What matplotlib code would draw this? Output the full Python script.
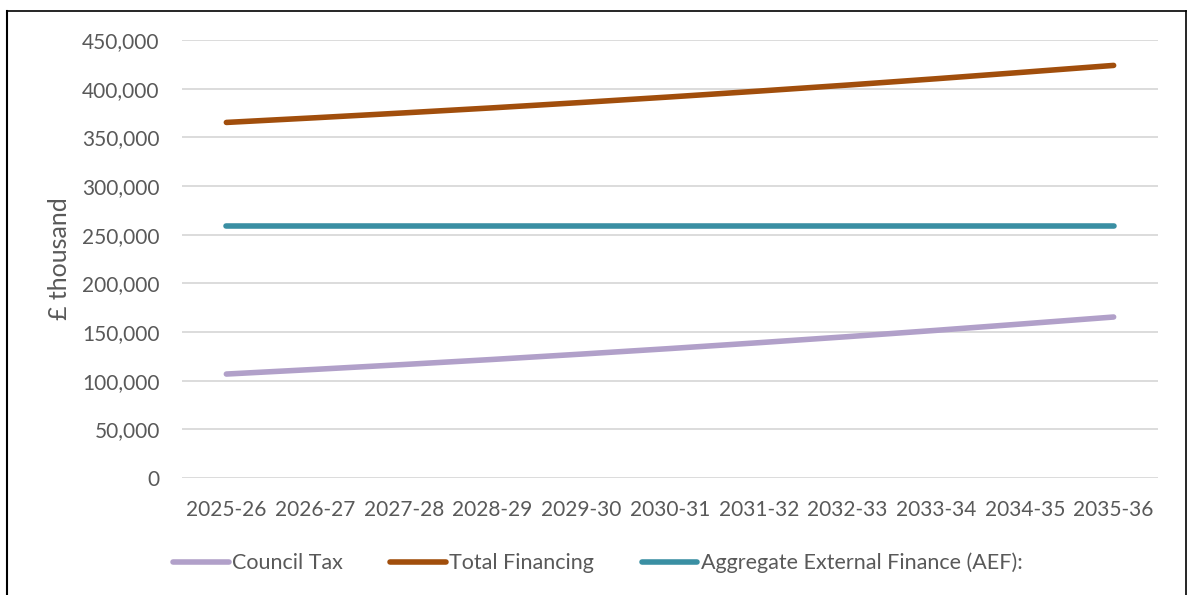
import matplotlib.pyplot as plt
from matplotlib.lines import Line2D
from matplotlib.ticker import FuncFormatter

years = ['2025-26', '2026-27', '2027-28', '2028-29', '2029-30', '2030-31',
         '2031-32', '2032-33', '2033-34', '2034-35', '2035-36']
council_tax = [106800, 111600, 116600, 121800, 127300, 133000,
               139000, 145200, 151700, 158500, 165400]
total_financing = [365300, 370100, 375100, 380300, 385800, 391500,
                   397500, 403700, 410200, 417000, 423900]
aef = [258500, 258500, 258500, 258500, 258500, 258500,
       258500, 258500, 258500, 258500, 258500]

grey = '#595959'
plt.rcParams['font.family'] = ['Lato', 'DejaVu Sans']

fig = plt.figure(figsize=(11.88, 5.95), dpi=100)
ax = fig.add_axes([182 / 1188, 117 / 595, 976 / 1188, 438 / 595])

x = [i + 0.5 for i in range(len(years))]
ax.plot(x, council_tax, color='#B1A0C9', lw=4, solid_capstyle='round', label='Council Tax')
ax.plot(x, total_financing, color='#A14E0C', lw=4, solid_capstyle='round', label='Total Financing')
ax.plot(x, aef, color='#3A8FA3', lw=4, solid_capstyle='round',
        label='Aggregate External Finance (AEF):')

ax.set_xlim(0, len(years))
ax.set_ylim(0, 450000)
ax.set_yticks(range(0, 450001, 50000))
ax.yaxis.set_major_formatter(FuncFormatter(lambda v, p: f'{int(v):,}'))
ax.set_xticks(x)
ax.set_xticklabels(years)
ax.grid(axis='y', color='#D9D9D9', lw=1.3)
ax.set_axisbelow(True)
for s in ax.spines.values():
    s.set_visible(False)
ax.tick_params(length=0, labelsize=15, colors=grey)
ax.tick_params(axis='y', pad=16)
ax.tick_params(axis='x', pad=16)
ax.set_ylabel('£ thousand', fontsize=18, color=grey, labelpad=8)

fig.legend(loc='center', bbox_to_anchor=(0.503, 1 - 563 / 595), ncol=3, frameon=False,
           fontsize=15.5, labelcolor=grey, handlelength=2.6, handletextpad=0.15,
           columnspacing=2.2)

# outer border
fig.add_artist(Line2D([7 / 1188, 7 / 1188], [0, 1 - 11 / 595], color='black', lw=1.5,
                      transform=fig.transFigure))
fig.add_artist(Line2D([7 / 1188, 1186 / 1188], [1 - 11 / 595, 1 - 11 / 595], color='black',
                      lw=1.2, transform=fig.transFigure))
fig.add_artist(Line2D([1186 / 1188, 1186 / 1188], [0, 1 - 11 / 595], color='black', lw=1.2,
                      transform=fig.transFigure))

fig.savefig('out.png', dpi=100)
